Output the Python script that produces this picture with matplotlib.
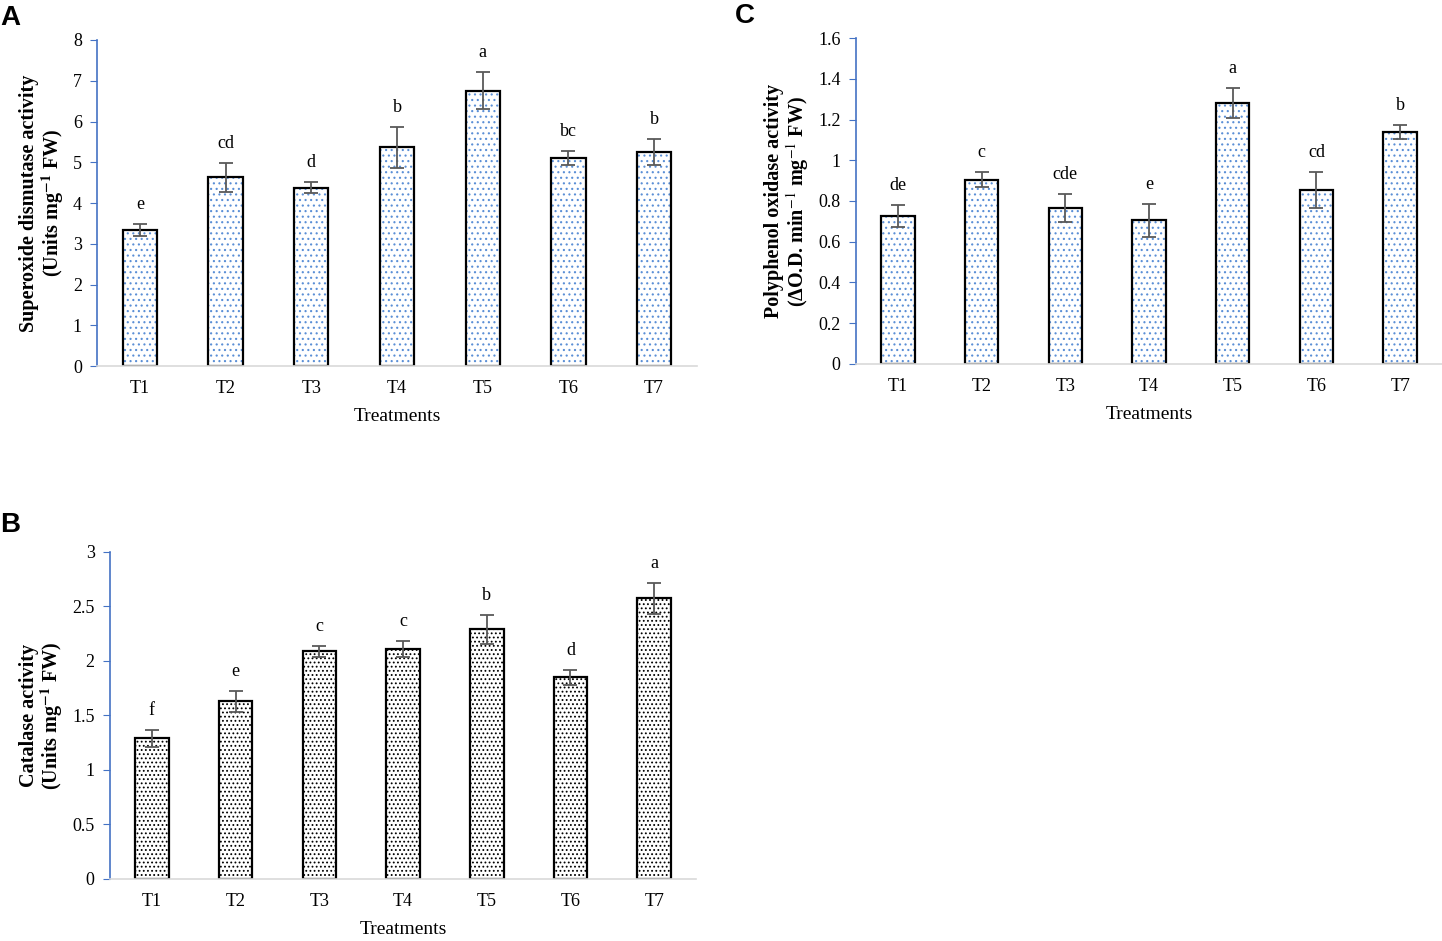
import matplotlib.pyplot as plt
from matplotlib.ticker import FuncFormatter

plt.rcParams['font.family'] = ['Liberation Serif', 'DejaVu Serif']
plt.rcParams['mathtext.fontset'] = 'stix'
plt.rcParams['hatch.linewidth'] = 0.8

treatments = ['T1', 'T2', 'T3', 'T4', 'T5', 'T6', 'T7']

# A: superoxide dismutase
sod = [3.33, 4.63, 4.38, 5.37, 6.76, 5.10, 5.25]
sod_err = [0.15, 0.35, 0.13, 0.50, 0.45, 0.17, 0.32]
sod_letters = ['e', 'cd', 'd', 'b', 'a', 'bc', 'b']

# B: catalase
cat = [1.29, 1.63, 2.09, 2.11, 2.29, 1.85, 2.575]
cat_err = [0.08, 0.095, 0.05, 0.075, 0.13, 0.07, 0.14]
cat_letters = ['f', 'e', 'c', 'c', 'b', 'd', 'a']

# C: polyphenol oxidase
ppo = [0.725, 0.905, 0.765, 0.705, 1.28, 0.855, 1.137]
ppo_err = [0.055, 0.037, 0.07, 0.08, 0.075, 0.088, 0.035]
ppo_letters = ['de', 'c', 'cde', 'e', 'a', 'cd', 'b']


def panel(ax, vals, errs, letters, ymax, step, ylabel, dot_color, hatch):
    x = range(len(treatments))
    ax.bar(x, vals, width=0.4, color='white', edgecolor=dot_color,
           hatch=hatch, linewidth=0)
    ax.bar(x, vals, width=0.4, color='none', edgecolor='black', linewidth=1.6)
    ax.errorbar(x, vals, yerr=errs, fmt='none', ecolor='#595959',
                elinewidth=1.3, capsize=5, capthick=1.3)
    for xi, v, e, lab in zip(x, vals, errs, letters):
        ax.annotate(lab, (xi, v + e), xytext=(0, 8), textcoords='offset points',
                    ha='center', va='bottom', fontsize=13)
    ax.set_xlim(-0.5, len(treatments) - 0.5)
    ax.set_ylim(0, ymax)
    ax.set_yticks([i * step for i in range(int(round(ymax / step)) + 1)])
    ax.yaxis.set_major_formatter(FuncFormatter(lambda v, p: f'{v:g}'))
    ax.set_xticks(list(x))
    ax.set_xticklabels(treatments)
    for s in ['top', 'right']:
        ax.spines[s].set_visible(False)
    ax.spines['left'].set_color('#4472C4')
    ax.spines['left'].set_linewidth(1.2)
    ax.spines['bottom'].set_color('#d9d9d9')
    ax.spines['bottom'].set_linewidth(1.2)
    ax.tick_params(axis='y', direction='out', length=5, color='#4472C4',
                   labelsize=13, pad=6)
    ax.tick_params(axis='x', length=0, labelsize=13, pad=10)
    ax.set_xlabel('Treatments', fontsize=14, labelpad=8)
    ax.set_ylabel(ylabel, fontsize=14.5, fontweight='bold', linespacing=1.0,
                  labelpad=5)


fig = plt.figure(figsize=(14.42, 9.41), dpi=100)
axA = fig.add_axes([0.0673, 0.611, 0.416, 0.3465])
axC = fig.add_axes([0.5936, 0.6132, 0.4064, 0.3464])
axB = fig.add_axes([0.0763, 0.0659, 0.4064, 0.3475])

panel(axA, sod, sod_err, sod_letters, 8, 1,
      'Superoxide dismutase activity\n(Units mg$^{\\mathbf{-1}}$ FW)',
      '#5b8fd6', '...')
panel(axC, ppo, ppo_err, ppo_letters, 1.6, 0.2,
      'Polyphenol oxidase activity\n(ΔO.D. min$^{-1}$ mg$^{-1}$ FW)',
      '#5b8fd6', '...')
panel(axB, cat, cat_err, cat_letters, 3, 0.5,
      'Catalase activity\n(Units mg$^{\\mathbf{-1}}$ FW)',
      'black', '....')

for lab, (px, py) in zip(['A', 'C', 'B'], [(0, 18), (735, 16), (0, 525)]):
    fig.text(px / 1442, 1 - py / 941, lab, fontsize=20, fontweight='bold',
             family=['Liberation Sans', 'DejaVu Sans'], va='center', ha='left')

fig.savefig('out.png', dpi=100)
